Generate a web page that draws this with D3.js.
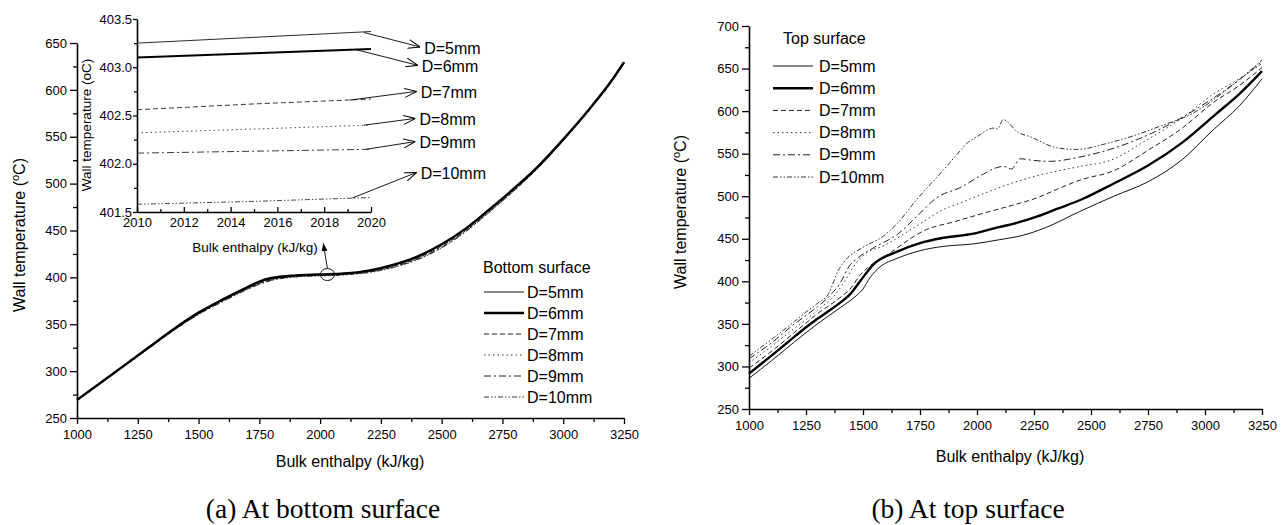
<!DOCTYPE html>
<html>
<head>
<meta charset="utf-8">
<script src="https://cdn.jsdelivr.net/npm/d3@7"></script>
<style>
  body { margin: 0; background: #fff; }
  text { font-family: "Liberation Sans", Arial, sans-serif; fill: #000; }
</style>
</head>
<body>
<div id="chart"></div>
<script>
// ---- datos: panel (a) superficie inferior ----
const leftH = [1000,1100,1200,1300,1400,1500,1600,1700,1750,1800,1900,2000,2100,2200,2300,2400,2500,2600,2700,2800,2900,3000,3100,3200,3250];
const botD5  = [269,288,307,326,345,362,376,389,395,399,402,403.3,404.3,407,413,422,435,452,473,495,519,547,577,610,629];
const botD6  = [269.3,288.3,307.2,326.2,345.3,362.4,376.5,389.5,395.5,399.3,402.1,403.1,404.1,407.2,413.3,422.2,435.3,452.3,473.3,495.4,519.3,547.2,577.2,610.2,629.5];
const botD7  = [268.8,287.6,306.6,325.7,344.6,361.5,375.4,388.2,393.8,397.8,401.4,402.6,403.6,406.3,412,420.6,433.4,450.6,471.8,494,518.3,546.4,576.5,609.6,629.2];
const botD8  = [268.6,287.4,306.4,325.5,344.3,361.2,375,387.8,393.4,397.5,401.2,402.3,403.3,405.9,411.5,420,432.7,450,471.3,493.6,518,546.2,576.3,609.4,629];
const botD9  = [268.5,287.2,306.2,325.2,344,360.8,374.6,387.4,393,397.1,400.9,402.1,403.1,405.6,411,419.4,432,449.4,470.8,493.2,517.7,546,576.1,609.3,628.9];
const botD10 = [268.3,287,306,325,343.7,360.4,374.2,387,392.6,396.7,400.4,401.6,402.6,405.1,410.4,418.8,431.4,448.9,470.3,492.8,517.4,545.8,576,609.2,628.8];

// zoom (inset) entre 2010 y 2020 kJ/kg
const insetH   = [2010, 2015, 2020];
const insetD5  = [403.25, 403.31, 403.37];
const insetD6  = [403.10, 403.145, 403.19];
const insetD7  = [402.56, 402.62, 402.67];
const insetD8  = [402.32, 402.36, 402.40];
const insetD9  = [402.11, 402.13, 402.15];
const insetD10 = [401.58, 401.61, 401.65];
// flechas del inset: [h inicio, T inicio, h punta, T punta]
const insetArrows = [
  [2019.7, 403.36, 2022.1, 403.21],
  [2019.4, 403.18, 2022.0, 403.02],
  [2019.1, 402.66, 2021.95, 402.75],
  [2019.7, 402.40, 2021.9, 402.47],
  [2019.8, 402.15, 2021.9, 402.23],
  [2019.2, 401.645, 2021.95, 401.91]
];
const circleAt = [2030, 403];
const circleArrowTip = [2013, 436.5];

// ---- datos: panel (b) superficie superior ----
const topD5 = [[1000,286],[1100,307],[1200,329],[1300,350],[1400,369],[1470,383],[1500,391],[1530,404],[1575,417],[1650,427],[1750,436],[1850,441],[1985,444],[2100,449],[2200,454],[2300,463],[2450,482],[2600,500],[2750,517],[2900,543],[3036,578],[3150,606],[3250,638]];
const topD6 = [[1000,291.5],[1100,313],[1200,335],[1250,346],[1300,356],[1400,375],[1444,385],[1487,400],[1546,420],[1650,435],[1750,445],[1850,451],[1985,456],[2100,464],[2150,467],[2262,476],[2350,485],[2465,497],[2600,515],[2750,536],[2900,563],[3050,597],[3150,620],[3250,647]];
const topD7 = [[1000,298],[1100,318],[1200,340],[1250,351],[1300,362],[1400,381],[1450,393],[1480,405],[1520,416],[1600,430],[1780,461],[1900,470],[2028,480],[2150,489],[2262,498],[2350,508],[2452,519],[2600,530],[2750,554],[2900,580],[3036,610],[3150,630],[3250,651]];
const topD8 = [[1000,304],[1100,324],[1200,345],[1250,355],[1300,366],[1380,385],[1420,400],[1460,418],[1500,430],[1600,443],[1735,465],[1850,484],[1925,492],[2000,500],[2150,515],[2262,524],[2452,535],[2583,542],[2744,566],[2900,592],[3036,620],[3150,638],[3250,656]];
const topD9 = [[1000,309],[1100,328],[1200,350],[1250,360],[1300,370],[1350,382],[1400,398],[1440,418],[1480,428],[1550,440],[1650,455],[1750,480],[1822,498],[1925,510],[2028,526],[2080,533],[2115,535],[2152,532],[2189,544],[2250,542],[2320,541],[2450,546],[2583,555],[2750,572],[2934,598],[3100,627],[3250,658]];
const topD10 = [[1000,312],[1100,332],[1200,353],[1250,364],[1300,374],[1350,386],[1390,412],[1420,424],[1500,440],[1589,453],[1650,468],[1735,496],[1850,530],[1925,553],[1955,562],[2000,570],[2072,580],[2090,579],[2115,590],[2180,575],[2232,570],[2349,557],[2437,555],[2583,563],[2686,571],[2800,582],[2950,598],[3100,626],[3250,660]];

const seriesNames = ["D=5mm","D=6mm","D=7mm","D=8mm","D=9mm","D=10mm"];
const xTicks = [1000,1250,1500,1750,2000,2250,2500,2750,3000,3250];
const xMinor = [1125,1375,1625,1875,2125,2375,2625,2875,3125];
const leftYTicks = [250,300,350,400,450,500,550,600,650];
const leftYMinor = [275,325,375,425,475,525,575,625];
const rightYTicks = [250,300,350,400,450,500,550,600,650,700];
const rightYMinor = [275,325,375,425,475,525,575,625,675];
const insetXTicks = [2010,2012,2014,2016,2018,2020];
const insetXMinor = [2011,2013,2015,2017,2019];
const insetYTicks = [401.5,402.0,402.5,403.0,403.5];
const insetYMinor = [401.75,402.25,402.75,403.25];

// estilos de linea
const styles = [
  { w: 1,   dash: null,                 c: "#111" },
  { w: 2.4, dash: null,                 c: "#000" },
  { w: 1,   dash: "5,3",                c: "#222" },
  { w: 1,   dash: "1.5,3",              c: "#333" },
  { w: 1,   dash: "7,3,2,3",            c: "#222" },
  { w: 1,   dash: "5,2,1.5,2,1.5,2",    c: "#333" }
];

const width = 1287, height = 525;
const svg = d3.select("#chart").append("svg")
  .attr("width", width).attr("height", height);

const defs = svg.append("defs");
defs.append("marker").attr("id", "openArrow")
  .attr("viewBox", "0 0 12 10").attr("refX", 12).attr("refY", 5)
  .attr("markerWidth", 12).attr("markerHeight", 10)
  .attr("markerUnits", "userSpaceOnUse").attr("orient", "auto")
  .append("path").attr("d", "M0,0.5 L12,5 L0,9.5")
  .attr("fill", "none").attr("stroke", "#000").attr("stroke-width", 1);
defs.append("marker").attr("id", "solidArrow")
  .attr("viewBox", "0 0 8 6").attr("refX", 8).attr("refY", 3)
  .attr("markerWidth", 8).attr("markerHeight", 6)
  .attr("markerUnits", "userSpaceOnUse").attr("orient", "auto")
  .append("path").attr("d", "M0,0 L8,3 L0,6 Z").attr("fill", "#000");

function styleLine(sel, i, scaleW) {
  const s = styles[i];
  sel.attr("fill", "none").attr("stroke", s.c)
    .attr("stroke-width", s.w * (scaleW || 1))
    .attr("stroke-dasharray", s.dash);
}

// ejes con marcas mayores y menores
function drawAxis(g, axisFn, scale, major, minor, size, minorSize, pad, fs, fmt) {
  const a = g.append("g");
  a.call(axisFn(scale).tickValues(major).tickSize(size).tickSizeOuter(0).tickPadding(pad).tickFormat(fmt));
  a.append("g").call(axisFn(scale).tickValues(minor).tickSize(minorSize).tickFormat(""))
    .select(".domain").remove();
  a.selectAll("path.domain").attr("stroke", "#000").attr("stroke-width", 1.6);
  a.selectAll(".tick line").attr("stroke", "#000").attr("stroke-width", 1.3);
  a.selectAll(".tick text").attr("font-size", fs)
    .attr("font-family", '"Liberation Sans", Arial, sans-serif').attr("fill", "#000");
  a.attr("font-family", null).attr("font-size", null);
  return a;
}

// ================= Panel (a) =================
const xL = d3.scaleLinear().domain([1000, 3250]).range([77, 624]);
const yL = d3.scaleLinear().domain([250, 650]).range([418, 43]);
const gL = svg.append("g");

drawAxis(gL.append("g").attr("transform", "translate(0,418)"), d3.axisBottom, xL, xTicks, xMinor, 6, 4, 6, 13, d3.format("d"));
drawAxis(gL.append("g").attr("transform", "translate(77,0)"), d3.axisLeft, yL, leftYTicks, leftYMinor, 7, 4, 3, 13, d3.format("d"));

const bottomSeries = [botD5, botD6, botD7, botD8, botD9, botD10];
const lineL = d3.line().x((d, i) => xL(leftH[i])).y(d => yL(d)).curve(d3.curveMonotoneX);
[2, 3, 4, 5, 0, 1].forEach(i => {
  gL.append("path").attr("d", lineL(bottomSeries[i])).call(styleLine, i);
});

gL.append("text").attr("text-anchor", "middle").attr("font-size", 16)
  .attr("transform", "translate(25,235) rotate(-90)")
  .call(t => {
    t.append("tspan").text("Wall temperature (");
    t.append("tspan").attr("font-size", 11).attr("dy", -6).text("o");
    t.append("tspan").attr("dy", 6).text("C)");
  });
gL.append("text").attr("x", 350).attr("y", 467).attr("text-anchor", "middle")
  .attr("font-size", 16).text("Bulk enthalpy (kJ/kg)");

// circulo y flecha hacia el inset
gL.append("ellipse").attr("cx", xL(circleAt[0])).attr("cy", yL(circleAt[1]))
  .attr("rx", 7).attr("ry", 6).attr("fill", "none").attr("stroke", "#000").attr("stroke-width", 0.9);
gL.append("line")
  .attr("x1", xL(circleAt[0])).attr("y1", yL(circleAt[1]) - 6)
  .attr("x2", xL(circleArrowTip[0])).attr("y2", yL(circleArrowTip[1]))
  .attr("stroke", "#000").attr("stroke-width", 0.9).attr("marker-end", "url(#solidArrow)");

// leyenda (a)
const legL = gL.append("g");
legL.append("text").attr("x", 483).attr("y", 267).attr("dy", "0.35em").attr("font-size", 16).text("Bottom surface");
seriesNames.forEach((n, i) => {
  const yy = 292 + i * 21;
  legL.append("line").attr("x1", 484).attr("x2", 524).attr("y1", yy).attr("y2", yy).call(styleLine, i);
  legL.append("text").attr("x", 527).attr("y", yy).attr("dy", "0.35em").attr("font-size", 16).text(n);
});

// ---- inset ----
const xI = d3.scaleLinear().domain([2010, 2020]).range([137, 371]);
const yI = d3.scaleLinear().domain([401.5, 403.5]).range([212, 19]);
const gI = svg.append("g");
drawAxis(gI.append("g").attr("transform", "translate(0,212)"), d3.axisBottom, xI, insetXTicks, insetXMinor, -5, -3, 6, 13, d3.format("d"));
drawAxis(gI.append("g").attr("transform", "translate(137,0)"), d3.axisLeft, yI, insetYTicks, insetYMinor, 4, 3, 1, 13, d3.format(".1f"));

const insetSeries = [insetD5, insetD6, insetD7, insetD8, insetD9, insetD10];
const lineI = d3.line().x((d, i) => xI(insetH[i])).y(d => yI(d));
insetSeries.forEach((s, i) => {
  gI.append("path").attr("d", lineI(s)).call(styleLine, i, i === 1 ? 0.85 : 0.9);
});
insetArrows.forEach((a, i) => {
  gI.append("line")
    .attr("x1", xI(a[0])).attr("y1", yI(a[1]))
    .attr("x2", xI(a[2])).attr("y2", yI(a[3]))
    .attr("stroke", "#000").attr("stroke-width", 0.9).attr("marker-end", "url(#openArrow)");
  gI.append("text").attr("x", xI(a[2]) + 4).attr("y", yI(a[3]) + 1).attr("dy", "0.35em")
    .attr("font-size", 16).text(seriesNames[i]);
});
gI.append("text").attr("text-anchor", "middle").attr("font-size", 13.5)
  .attr("transform", "translate(91,125) rotate(-90)").text("Wall temperature (oC)");
gI.append("text").attr("x", 255).attr("y", 252).attr("text-anchor", "middle")
  .attr("font-size", 13.5).text("Bulk enthalpy (kJ/kg)");

// ================= Panel (b) =================
const xR = d3.scaleLinear().domain([1000, 3250]).range([749, 1262]);
const yR = d3.scaleLinear().domain([250, 700]).range([409, 26]);
const gR = svg.append("g");

drawAxis(gR.append("g").attr("transform", "translate(0,409)"), d3.axisBottom, xR, xTicks, xMinor, 6, 4, 6, 13, d3.format("d"));
drawAxis(gR.append("g").attr("transform", "translate(749,0)"), d3.axisLeft, yR, rightYTicks, rightYMinor, 7, 4, 3, 13, d3.format("d"));

const topSeries = [topD5, topD6, topD7, topD8, topD9, topD10];
const lineR = d3.line().x(d => xR(d[0])).y(d => yR(d[1])).curve(d3.curveMonotoneX);
topSeries.forEach((s, i) => {
  gR.append("path").attr("d", lineR(s)).call(styleLine, i);
});

gR.append("text").attr("text-anchor", "middle").attr("font-size", 16)
  .attr("transform", "translate(686,212) rotate(-90)")
  .call(t => {
    t.append("tspan").text("Wall temperature (");
    t.append("tspan").attr("font-size", 11).attr("dy", -6).text("o");
    t.append("tspan").attr("dy", 6).text("C)");
  });
gR.append("text").attr("x", 1010).attr("y", 462).attr("text-anchor", "middle")
  .attr("font-size", 16).text("Bulk enthalpy (kJ/kg)");

const legR = gR.append("g");
legR.append("text").attr("x", 783).attr("y", 38).attr("dy", "0.35em").attr("font-size", 16).text("Top surface");
seriesNames.forEach((n, i) => {
  const yy = 66 + i * 22.2;
  legR.append("line").attr("x1", 773).attr("x2", 813).attr("y1", yy).attr("y2", yy).call(styleLine, i);
  legR.append("text").attr("x", 819).attr("y", yy).attr("dy", "0.35em").attr("font-size", 16).text(n);
});

// leyendas de figura
svg.append("text").attr("x", 323).attr("y", 518).attr("text-anchor", "middle")
  .style("font-family", '"Liberation Serif", "Times New Roman", serif').attr("font-size", 27.5)
  .text("(a) At bottom surface");
svg.append("text").attr("x", 968).attr("y", 518).attr("text-anchor", "middle")
  .style("font-family", '"Liberation Serif", "Times New Roman", serif').attr("font-size", 27.5)
  .text("(b) At top surface");
</script>
</body>
</html>
